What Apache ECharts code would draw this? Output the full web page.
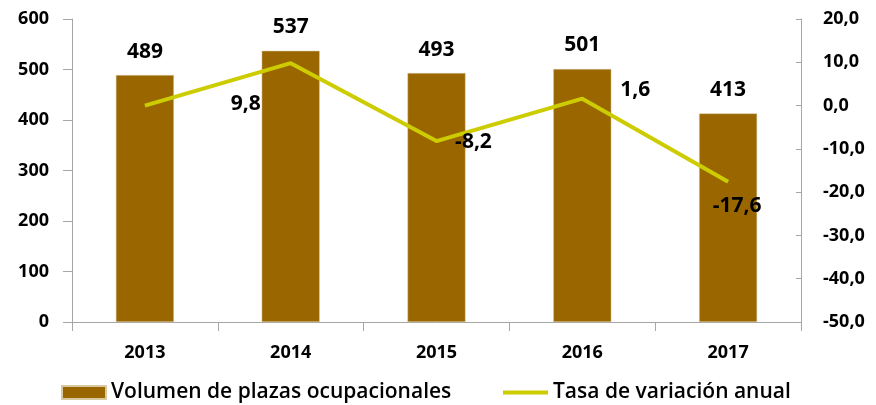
<!DOCTYPE html>
<html>
<head>
<meta charset="utf-8">
<script src="https://cdn.jsdelivr.net/npm/echarts@6/dist/echarts.min.js"></script>
<style>
  html, body { margin: 0; padding: 0; background: #fff; }
  #chart { width: 876px; height: 405px; }
</style>
</head>
<body>
<div id="chart"></div>
<script>
// Plazas ocupacionales por año y su variación interanual
const years = ['2013', '2014', '2015', '2016', '2017'];
const plazas = [489, 537, 493, 501, 413];
const tasa = [0.0, 9.8, -8.2, 1.6, -17.6];
const tasaLabels = ['', '9,8', '-8,2', '1,6', '-17,6'];
const tasaLabelOffsets = [[0, 0], [-45, 41], [37, 1], [53, -9], [9, 24]];

const FONT = '"Open Sans", Lato, sans-serif';
const axisColor = '#a6a6a6';
const barColor = '#996600';
const lineColor = '#cccc00';

const chart = echarts.init(document.getElementById('chart'), null, { renderer: 'canvas' });

const legendText = { fontSize: 21, color: '#000', fontFamily: FONT, fontWeight: 600 };

chart.setOption({
  animation: false,
  textStyle: { fontFamily: FONT },
  grid: { left: 72, right: 75, top: 19, bottom: 83 },
  legend: [
    {
      left: 56, top: 377,
      itemWidth: 44, itemHeight: 13,
      textStyle: legendText,
      data: [{ name: 'Volumen de plazas ocupacionales', icon: 'rect' }]
    },
    {
      left: 496, top: 377,
      itemWidth: 45, itemHeight: 13,
      textStyle: legendText,
      itemStyle: { opacity: 0 },
      lineStyle: { width: 4, color: lineColor },
      data: [{ name: 'Tasa de variación anual' }]
    }
  ],
  xAxis: {
    type: 'category',
    data: years,
    axisLine: { lineStyle: { color: axisColor, width: 1 } },
    axisTick: { show: true, alignWithLabel: false, length: 9, lineStyle: { color: axisColor } },
    axisLabel: { color: '#000', fontSize: 18, fontWeight: 'bold', margin: 22, fontFamily: FONT }
  },
  yAxis: [
    {
      type: 'value',
      min: 0, max: 600, interval: 100,
      axisLine: { show: true, lineStyle: { color: axisColor } },
      axisTick: { show: true, length: 9, lineStyle: { color: axisColor } },
      splitLine: { show: false },
      axisLabel: { color: '#000', fontSize: 18, fontWeight: 'bold', margin: 23, fontFamily: FONT }
    },
    {
      type: 'value',
      min: -50, max: 20, interval: 10,
      position: 'right',
      axisLine: { show: true, lineStyle: { color: axisColor } },
      axisTick: { show: true, inside: true, length: 5, lineStyle: { color: axisColor } },
      splitLine: { show: false },
      axisLabel: {
        color: '#000', fontSize: 18, fontWeight: 'bold', margin: 22, fontFamily: FONT,
        formatter: v => v.toFixed(1).replace('.', ',')
      }
    }
  ],
  series: [
    {
      name: 'Volumen de plazas ocupacionales',
      type: 'bar',
      yAxisIndex: 0,
      data: plazas,
      barWidth: 58,
      itemStyle: { color: barColor, borderColor: '#d9c9a0', borderWidth: 0.5 },
      label: {
        show: true, position: 'top', distance: 13,
        color: '#000', fontSize: 21, fontWeight: 'bold', fontFamily: FONT
      }
    },
    {
      name: 'Tasa de variación anual',
      type: 'line',
      yAxisIndex: 1,
      data: tasa.map((v, i) => ({
        value: v,
        label: {
          show: tasaLabels[i] !== '',
          formatter: tasaLabels[i],
          position: 'inside',
          offset: tasaLabelOffsets[i]
        }
      })),
      symbol: 'circle',
      symbolSize: 0,
      showSymbol: true,
      lineStyle: { color: lineColor, width: 4 },
      itemStyle: { color: lineColor },
      label: {
        show: true,
        color: '#000', fontSize: 21, fontWeight: 'bold', fontFamily: FONT
      }
    }
  ]
});
</script>
</body>
</html>
